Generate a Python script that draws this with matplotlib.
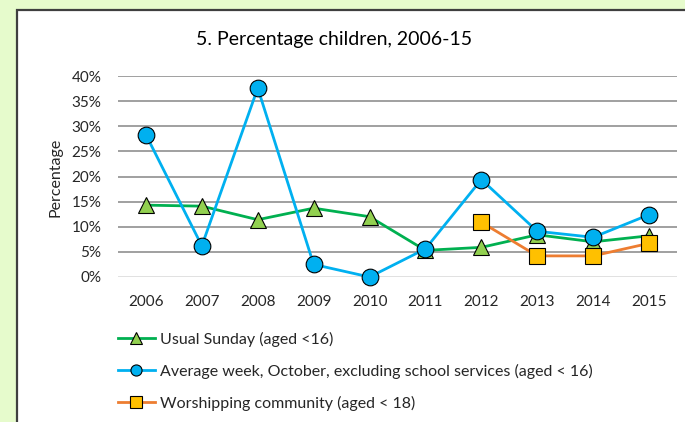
import matplotlib
matplotlib.use("Agg")
import matplotlib.pyplot as plt
from matplotlib.lines import Line2D
from matplotlib.patches import Rectangle
from matplotlib.ticker import FuncFormatter

plt.rcParams['font.family'] = ['Lato', 'DejaVu Sans']

years = [2006, 2007, 2008, 2009, 2010, 2011, 2012, 2013, 2014, 2015]
usual_sunday = [14.3, 14.1, 11.4, 13.7, 12.0, 5.3, 5.9, 8.4, 7.0, 8.2]
average_week = [28.3, 6.2, 37.6, 2.5, 0.0, 5.6, 19.4, 9.1, 7.9, 12.4]
worship_years = [2012, 2013, 2014, 2015]
worshipping = [10.9, 4.2, 4.2, 6.7]
yticks = [0, 5, 10, 15, 20, 25, 30, 35, 40]

labels = ["Usual Sunday (aged <16)",
          "Average week, October, excluding school services (aged < 16)",
          "Worshipping community (aged < 18)"]

W, H = 685, 422
fig = plt.figure(figsize=(W / 100, H / 100), dpi=100)
fig.patch.set_facecolor('#E6FBCC')

# white chart panel with dark border
panel = Rectangle((17 / W, -0.05), 1.2, (1 - 10 / H) + 0.05, transform=fig.transFigure,
                  facecolor='white', edgecolor='#3F3F3F', linewidth=1.6, zorder=-10)
fig.patches.append(panel)

ax = fig.add_axes([118 / W, 1 - 277 / H, (677 - 118) / W, (277 - 76) / H])
ax.set_facecolor('none')

xs = list(range(len(years)))
xw = [years.index(y) for y in worship_years]

ax.plot(xs, usual_sunday, color='#00B050', lw=2.0, marker='^', ms=12,
        mfc='#92D050', mec='black', mew=0.8, zorder=3, clip_on=False)
ax.plot(xs, average_week, color='#00B0F0', lw=2.0, marker='o', ms=12,
        mfc='#00B0F0', mec='black', mew=0.8, zorder=4, clip_on=False)
ax.plot(xw, worshipping, color='#ED7D31', lw=2.0, marker='s', ms=11,
        mfc='#FFC000', mec='black', mew=0.8, zorder=5, clip_on=False)

ax.set_xlim(-0.5, len(years) - 0.5)
ax.set_ylim(0, 40)
ax.set_xticks(xs)
ax.set_xticklabels([str(y) for y in years])
ax.set_yticks(yticks)
ax.yaxis.set_major_formatter(FuncFormatter(lambda v, p: f"{int(v)}%"))
ax.tick_params(axis='both', length=0, labelsize=11, colors='#262626', pad=13)
ax.tick_params(axis='y', pad=12)
for s in ax.spines.values():
    s.set_visible(False)
for t in yticks:
    if t == 0:
        ax.axhline(t, color='#D9D9D9', lw=1.1, zorder=1)
    else:
        ax.axhline(t, color='#868686', lw=1.1, zorder=1)

fig.text(55 / W, 1 - 177 / H, "Percentage", rotation=90, ha='center', va='center',
         fontsize=11.5, color='#262626')
fig.text(334 / W, 1 - 40 / H, "5. Percentage children, 2006-15", ha='center', va='center',
         fontsize=14, color='black')

handles = [
    Line2D([], [], color='#00B050', lw=2.0, marker='^', ms=8, mfc='#92D050', mec='black', mew=0.8),
    Line2D([], [], color='#00B0F0', lw=2.0, marker='o', ms=8, mfc='#00B0F0', mec='black', mew=0.8),
    Line2D([], [], color='#ED7D31', lw=2.0, marker='s', ms=8, mfc='#FFC000', mec='black', mew=0.8),
]
leg = fig.legend(handles, labels, loc='upper left', bbox_to_anchor=(118 / W, 1 - 332 / H),
                 frameon=False, fontsize=11.5, handlelength=2.3, handletextpad=0.3,
                 labelspacing=1.05, borderpad=0, borderaxespad=0)
for t in leg.get_texts():
    t.set_color('#262626')

fig.savefig("out.png", dpi=100, facecolor=fig.get_facecolor())
